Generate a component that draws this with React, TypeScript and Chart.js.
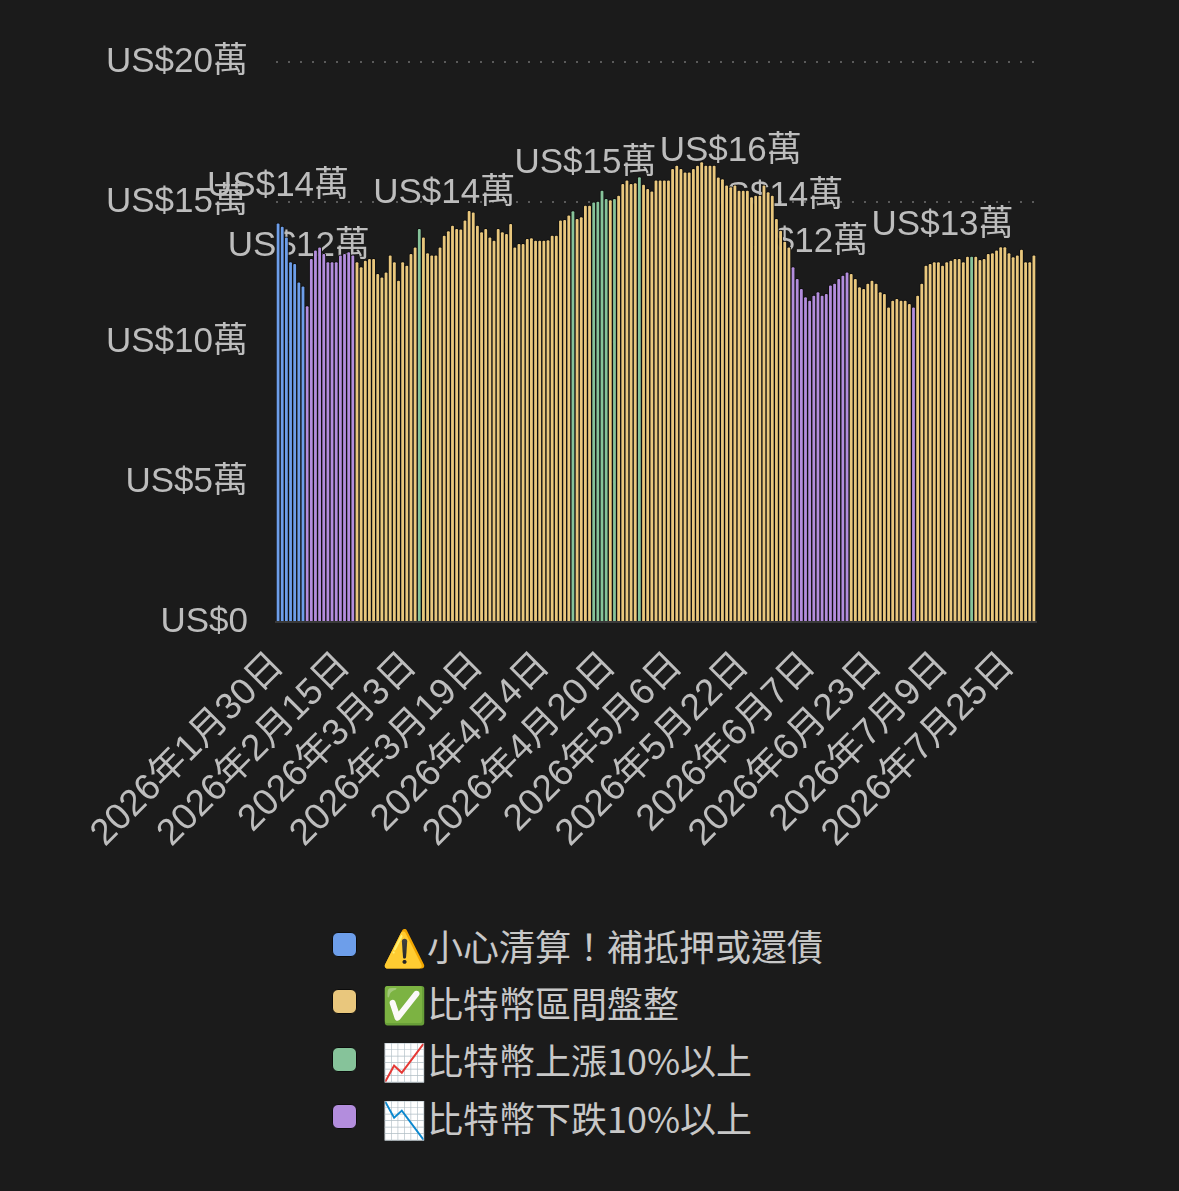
import React, { useEffect, useRef } from 'react';
import { Chart, registerables } from 'chart.js';

Chart.register(...registerables);

// ---- data ----
const startDay = { year: 2026, month: 1, day: 30 };
const dayCount = 183;

const values: number[] = [
  142600, 141400, 137600, 128700, 128100, 121500, 120100, 113000, 129900, 132900,
  134000, 131700, 128700, 128700, 128700, 131100, 131700, 132300, 131100, 128700,
  126900, 129300, 129900, 129900, 124500, 123300, 125100, 131100, 128700, 122100,
  128700, 127500, 131700, 134000, 140600, 137600, 131900, 131100, 131100, 134000,
  138200, 139800, 141800, 140600, 140400, 143600, 147000, 146500, 141800, 139400,
  140600, 137600, 136400, 140600, 139400, 138800, 142400, 134000, 135200, 135200,
  137000, 137300, 136400, 136400, 136400, 136600, 138200, 138200, 143600, 143800,
  145400, 146900, 144200, 144800, 148900, 148900, 150100, 150300, 154300, 151300,
  150900, 151300, 152500, 156700, 157900, 156700, 156900, 159100, 156400, 154900,
  154000, 157900, 157900, 157900, 157900, 162000, 163200, 162000, 160800, 160800,
  162000, 163200, 164400, 163200, 163200, 163200, 159000, 158400, 156100, 155500,
  156100, 154300, 154300, 154300, 151900, 152500, 152500, 156100, 153700, 152500,
  144200, 140000, 136000, 134000, 126900, 122700, 119200, 116200, 115000, 116800,
  118000, 116800, 117400, 120400, 121000, 122700, 123900, 125100, 124500, 122700,
  119800, 119200, 121000, 122100, 121000, 118000, 117400, 112600, 115000, 115600,
  115000, 115000, 113800, 112600, 116800, 121000, 127500, 128100, 128700, 128700,
  127500, 128700, 129300, 129900, 129900, 128700, 130700, 130700, 130700, 129500,
  129900, 131700, 131900, 132900, 134100, 134100, 131900, 130500, 131100, 133200,
  128700, 128700, 131100,
];

// category per day, as runs of [categoryIndex, length]
// 0 = liquidation warning, 1 = range, 2 = up 10%+, 3 = down 10%+
const categoryRuns: [number, number][] = [
  [0, 7], [3, 12], [1, 15], [2, 1], [1, 36], [2, 1], [1, 4], [2, 4], [1, 1], [2, 1],
  [1, 5], [2, 1], [1, 36], [3, 14], [1, 15], [3, 1], [1, 13], [2, 1], [1, 15],
];

const seriesLabels = [
  '⚠️小心清算！補抵押或還債',
  '✅比特幣區間盤整',
  '📈比特幣上漲10%以上',
  '📉比特幣下跌10%以上',
];
const seriesColors = ['#6d9eea', '#e9c77d', '#86c39a', '#b38ddd'];

const yTickValues = [0, 50000, 100000, 150000, 200000];
const yTickLabels = ['US$0', 'US$5萬', 'US$10萬', 'US$15萬', 'US$20萬'];

const xLabelEvery = 16;

const noteIndex = [0, 5, 40, 74, 109, 119, 125, 160];
const noteValue = [155700, 134300, 153200, 163900, 168200, 152100, 135500, 141800];
const noteText = ['US$14萬', 'US$12萬', 'US$14萬', 'US$15萬', 'US$16萬', 'US$14萬', 'US$12萬', 'US$13萬'];

// ---- derived ----
const categories: string[] = (() => {
  const out: string[] = [];
  const d = new Date(Date.UTC(startDay.year, startDay.month - 1, startDay.day));
  for (let i = 0; i < dayCount; i++) {
    out.push(`${d.getUTCFullYear()}年${d.getUTCMonth() + 1}月${d.getUTCDate()}日`);
    d.setUTCDate(d.getUTCDate() + 1);
  }
  return out;
})();

const dayCategory: number[] = [];
categoryRuns.forEach(([c, n]) => {
  for (let k = 0; k < n; k++) dayCategory.push(c);
});

const FONT = '"Liberation Sans", "Noto Sans CJK TC", sans-serif';
const TEXT = '#bdbdbd';
const BG = '#1b1b1b';

const noteLabels = {
  id: 'noteLabels',
  beforeDatasetsDraw(chart: any) {
    const { ctx, scales } = chart;
    const x = scales.x;
    const y = scales.y;
    ctx.save();
    ctx.font = `35px ${FONT}`;
    ctx.fillStyle = TEXT;
    ctx.textAlign = 'center';
    ctx.textBaseline = 'middle';
    noteIndex.forEach((idx, k) => {
      ctx.fillText(noteText[k], x.getPixelForValue(idx), y.getPixelForValue(noteValue[k]));
    });
    ctx.restore();
  },
};

export default function App() {
  const canvasRef = useRef<HTMLCanvasElement | null>(null);

  useEffect(() => {
    document.documentElement.style.background = BG;
    document.body.style.background = BG;
    const canvas = canvasRef.current;
    if (!canvas) return;
    const datasets = seriesLabels.map((label, c) => ({
      label,
      data: values.map((v, i) => (dayCategory[i] === c ? v : null)),
      backgroundColor: seriesColors[c],
      borderColor: '#101010',
      borderWidth: 1,
      borderRadius: { topLeft: 2, topRight: 2, bottomLeft: 0, bottomRight: 0 },
      borderSkipped: 'bottom',
      barPercentage: 1,
      categoryPercentage: 1,
    }));
    const chart = new Chart(canvas, {
      type: 'bar',
      data: { labels: categories, datasets: datasets as any },
      plugins: [noteLabels],
      options: {
        animation: false,
        responsive: true,
        maintainAspectRatio: false,
        layout: { padding: { top: 54, right: 135, left: 0, bottom: 0 } },
        plugins: {
          legend: { display: false },
          tooltip: { enabled: false },
        },
        scales: {
          x: {
            stacked: true,
            grid: { display: false, drawTicks: false },
            border: { display: true, color: '#3a3a3a', width: 2 },
            ticks: {
              autoSkip: false,
              minRotation: 45,
              maxRotation: 45,
              padding: 22,
              color: TEXT,
              font: { size: 37, family: FONT },
              callback: (_v: any, i: number) => (i % xLabelEvery === 0 ? categories[i] : ''),
            },
            afterFit: (axis: any) => {
              axis.height = 266;
            },
          },
          y: {
            stacked: true,
            min: 0,
            max: 200000,
            grid: { color: '#5a5a5a', lineWidth: 2, drawTicks: false },
            border: { display: false, dash: [2, 10] },
            ticks: {
              stepSize: 50000,
              padding: 28,
              color: TEXT,
              font: { size: 35, family: FONT },
              callback: (v: any) => {
                const k = yTickValues.indexOf(Number(v));
                return k >= 0 ? yTickLabels[k] : '';
              },
            },
            afterFit: (axis: any) => {
              axis.width = 268;
            },
          },
        },
      } as any,
    });
    return () => chart.destroy();
  }, []);

  return (
    <div style={{ position: 'relative', width: 1163, height: 1175, background: BG }}>
      <div style={{ position: 'absolute', left: 0, top: 0, width: 1163, height: 880 }}>
        <canvas ref={canvasRef} />
      </div>
      <div style={{ position: 'absolute', left: 324, top: 908 }}>
        {seriesLabels.map((label, c) => (
          <div key={label} style={{ display: 'flex', alignItems: 'center', height: 57.3 }}>
            <span
              style={{
                display: 'inline-block',
                width: 25,
                height: 25,
                borderRadius: 6,
                background: seriesColors[c],
                border: '1.5px solid #0c0c0c',
                boxSizing: 'border-box',
              }}
            />
            <span
              style={{
                marginLeft: 25,
                fontFamily: '"Noto Sans CJK TC", sans-serif',
                fontSize: 36,
                color: '#c8c8c8',
                whiteSpace: 'nowrap',
                lineHeight: '40px',
              }}
            >
              {label}
            </span>
          </div>
        ))}
      </div>
    </div>
  );
}
